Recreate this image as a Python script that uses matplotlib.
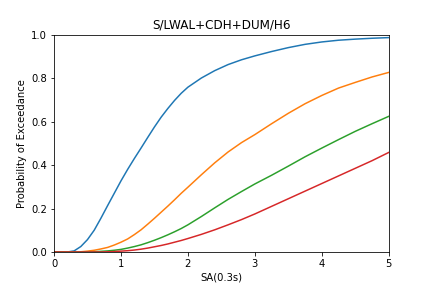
import matplotlib
matplotlib.use("Agg")
import matplotlib.pyplot as plt

title = "S/LWAL+CDH+DUM/H6"
x_label = "SA(0.3s)"
y_label = "Probability of Exceedance"

sa = [0.0, 0.2, 0.3, 0.4, 0.5, 0.6, 0.7, 0.8, 0.9, 1.0,
      1.1, 1.2, 1.3, 1.4, 1.5, 1.6, 1.7, 1.8, 1.9, 2.0,
      2.2, 2.4, 2.6, 2.8, 3.0,
      3.25, 3.5, 3.75, 4.0, 4.25, 4.5, 4.75, 5.0]

slight = [0.0, 0.0, 0.005, 0.025, 0.057, 0.10, 0.155, 0.213, 0.27, 0.327,
          0.38, 0.43, 0.478, 0.527, 0.575, 0.62, 0.66, 0.697, 0.73, 0.758,
          0.80, 0.834, 0.862, 0.884, 0.902,
          0.922, 0.94, 0.955, 0.966, 0.974, 0.979, 0.983, 0.986]
moderate = [0.0, 0.0, 0.0, 0.001, 0.004, 0.008, 0.014, 0.021, 0.032, 0.045,
            0.06, 0.08, 0.102, 0.128, 0.155, 0.183, 0.211, 0.24, 0.27, 0.298,
            0.355, 0.41, 0.46, 0.503, 0.54,
            0.59, 0.638, 0.682, 0.72, 0.754, 0.78, 0.805, 0.826]
extensive = [0.0, 0.0, 0.0, 0.0, 0.0, 0.001, 0.003, 0.005, 0.008, 0.012,
             0.018, 0.025, 0.033, 0.043, 0.054, 0.066, 0.079, 0.093, 0.108, 0.125,
             0.163, 0.203, 0.242, 0.278, 0.313,
             0.353, 0.395, 0.438, 0.478, 0.517, 0.555, 0.59, 0.624]
complete = [0.0, 0.0, 0.0, 0.0, 0.0, 0.0, 0.0, 0.001, 0.002, 0.004,
            0.006, 0.009, 0.013, 0.018, 0.024, 0.03, 0.037, 0.045, 0.053, 0.062,
            0.081, 0.102, 0.125, 0.149, 0.175,
            0.21, 0.245, 0.28, 0.315, 0.35, 0.385, 0.42, 0.458]

fig = plt.figure(figsize=(6, 4), dpi=72)
ax = fig.add_subplot(111)
fig.subplots_adjust(left=0.125, right=0.9, top=0.88, bottom=0.125)

for series in (slight, moderate, extensive, complete):
    ax.plot(sa, series)

ax.set_xlim(0, 5)
ax.set_ylim(0, 1)
ax.set_title(title)
ax.set_xlabel(x_label)
ax.set_ylabel(y_label)

fig.savefig("out.png", dpi=72)
